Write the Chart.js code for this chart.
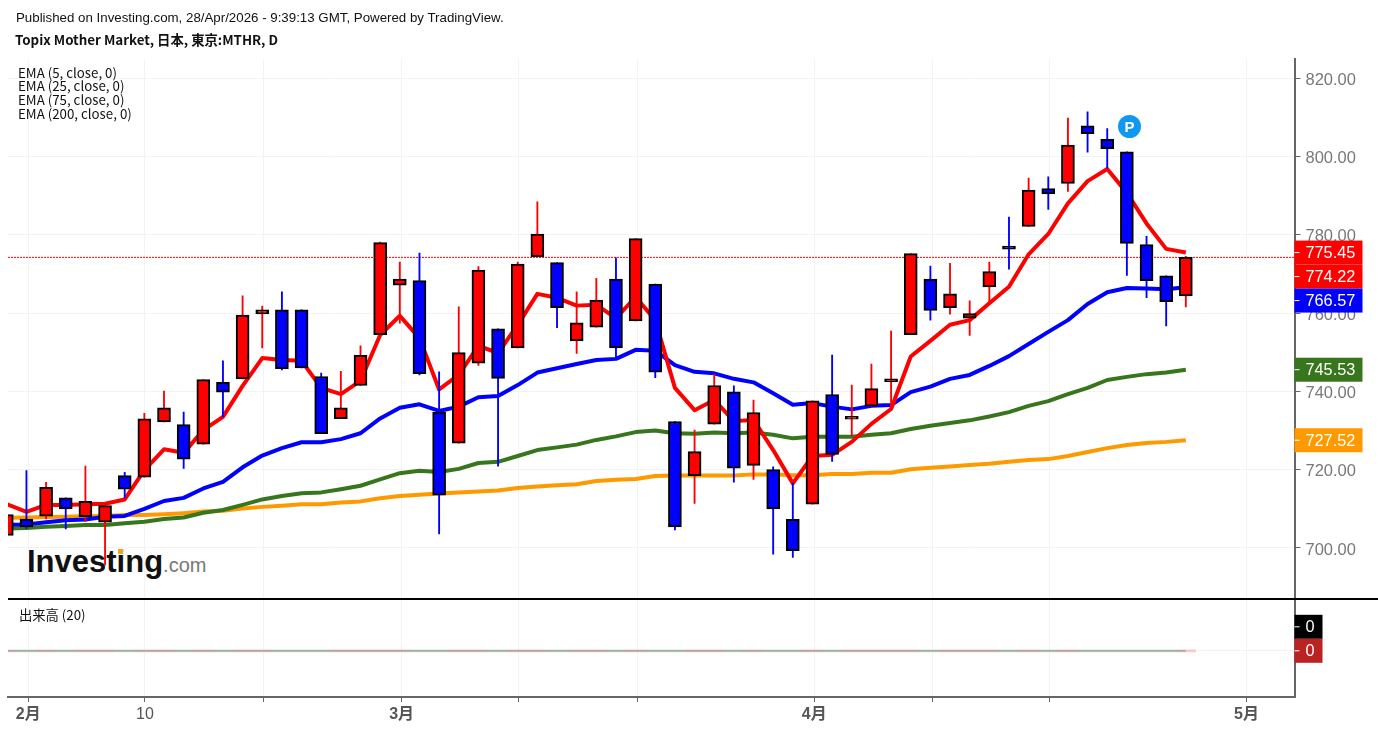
<!DOCTYPE html>
<html>
<head>
<meta charset="utf-8">
<title>Topix Mother Market</title>
<script src="https://cdn.jsdelivr.net/npm/chart.js@4"></script>
<style>
  html, body { margin:0; padding:0; background:#fff; }
  #wrap { position:relative; width:1378px; height:730px; overflow:hidden; }
  #chart { position:absolute; left:0; top:0; z-index:2; }
  .txt { position:absolute; white-space:nowrap; color:#111; z-index:3; }
  .pub { left:16px; top:10px; font:13.3px "Liberation Sans", sans-serif; }
  .ttl { left:15px; top:30px; font:bold 13.35px "Noto Sans CJK JP", sans-serif; }
  .ind { left:18px; font:13.3px/14px "Noto Sans CJK JP", sans-serif; }
  .logo { position:absolute; left:27px; top:544px; z-index:1; font:bold 31px "Liberation Sans", sans-serif; color:#111; white-space:nowrap; }
  .logo span { font:20px "Liberation Sans", sans-serif; color:#777; }
  .dot { position:absolute; left:118px; top:549px; width:5px; height:5px; background:#f7a11a; z-index:1; }
  .badge { position:absolute; left:1118px; top:115px; width:23px; height:23px; border-radius:50%; background:#0e98f2; color:#fff;
           font:bold 15px/23px "Liberation Sans", sans-serif; text-align:center; z-index:3; }
</style>
</head>
<body>
<div id="wrap">
  <div class="txt pub">Published on Investing.com, 28/Apr/2026 - 9:39:13 GMT, Powered by TradingView.</div>
  <div class="txt ttl">Topix Mother Market, 日本, 東京:MTHR, D</div>
  <div class="txt ind" style="top:66px">EMA (5, close, 0)</div>
  <div class="txt ind" style="top:79px">EMA (25, close, 0)</div>
  <div class="txt ind" style="top:93px">EMA (75, close, 0)</div>
  <div class="txt ind" style="top:107px">EMA (200, close, 0)</div>
  <div class="txt ind" style="top:608px;left:19px">出来高 (20)</div>
  <div class="logo">Investing<span>.com</span></div>
  <div class="dot"></div>
  <div class="badge">P</div>
  <canvas id="chart" width="1378" height="730"></canvas>
</div>
<script>
// Candles, one entry per trading day
const opens = [703.2,707.4,708.1,712.8,708.0,706.6,718.5,718.1,732.2,731.5,726.5,742.3,743.2,759.8,760.8,760.8,743.8,733.0,741.5,754.5,767.1,768.3,734.7,726.8,747.2,756.0,751.1,774.4,772.9,752.9,756.4,768.7,758.0,767.4,732.3,718.5,731.6,739.9,721.1,720.0,707.3,711.2,739.2,732.9,736.2,742.5,754.5,768.7,761.4,758.7,766.7,777.1,782.1,791.8,793.1,807.8,804.4,801.2,777.5,769.5,764.4];
const closes = [708.5,705.4,715.5,710.0,711.9,710.8,715.0,733.0,735.8,722.7,743.0,739.8,759.5,760.8,745.8,746.0,729.2,735.8,749.2,778.0,768.7,744.5,713.5,749.9,771.0,743.3,772.5,780.2,761.4,757.5,763.3,751.1,779.0,744.9,705.4,724.6,741.5,720.4,734.6,710.0,699.3,737.6,723.9,733.6,740.7,743.2,775.2,760.7,764.9,759.9,770.6,776.3,791.4,790.4,802.9,805.8,802.0,777.8,768.3,762.9,774.22];
const highs = [709.0,719.8,716.8,712.8,720.9,710.8,719.3,734.4,740.1,734.7,743.0,747.8,764.4,761.8,765.4,760.8,744.7,745.1,751.6,778.1,773.0,775.3,745.0,761.6,771.9,756.0,773.0,788.4,772.9,765.4,768.9,774.1,779.0,767.4,732.3,730.1,744.4,741.4,737.8,720.7,716.6,737.6,749.3,741.6,747.0,755.4,775.2,772.0,772.7,763.1,773.0,784.5,794.5,794.8,809.8,811.4,807.1,801.2,779.6,769.5,774.5];
const lows = [703.2,705.0,707.4,704.9,706.7,695.7,712.7,718.1,732.2,720.3,726.5,733.5,743.2,751.1,745.5,746.0,729.2,733.0,741.5,754.5,757.4,744.2,703.6,726.8,746.6,720.9,751.1,774.4,756.3,749.7,756.4,748.7,758.0,743.5,704.6,711.4,731.6,716.8,717.5,698.4,697.6,711.2,722.1,728.6,736.2,735.5,754.5,758.2,759.7,754.3,762.9,771.2,782.1,786.5,791.1,801.1,797.0,769.6,763.9,756.7,761.6];

// Moving averages
const ema5 = [711.2,709.2,711.0,711.0,711.2,711.3,712.4,719.9,725.2,724.3,730.1,733.5,741.4,748.5,748.0,747.8,740.9,739.3,742.7,754.4,759.3,753.6,740.5,744.2,751.6,749.8,757.0,764.9,763.9,761.9,762.1,758.7,764.1,758.2,740.9,735.2,737.8,732.4,732.7,725.0,716.5,723.5,723.8,727.1,731.7,735.5,748.9,752.9,757.0,758.2,762.5,766.7,775.0,780.2,788.0,793.7,796.8,790.7,782.9,776.4,775.45];
const ema25 = [705.9,706.0,706.6,707.1,707.3,708.0,708.2,710.0,712.0,712.8,715.2,716.9,720.6,723.6,725.5,727.0,727.0,727.8,729.3,733.1,735.8,736.7,735.0,736.1,738.5,738.8,741.6,744.8,745.9,747.0,748.0,748.3,750.6,750.4,746.7,745.0,744.6,743.2,742.3,739.5,736.6,737.0,736.1,735.4,736.3,736.5,739.8,741.2,743.2,744.2,746.5,749.0,752.1,755.2,758.2,762.3,765.3,766.4,766.3,766.1,766.57];
const ema75 = [705.0,705.1,705.4,705.6,705.9,705.9,706.3,706.7,707.4,707.8,709.0,709.7,711.0,712.4,713.3,714.0,714.2,715.0,715.9,717.5,719.1,719.7,719.4,720.2,721.7,722.0,723.5,725.0,725.7,726.4,727.6,728.5,729.6,730.0,729.3,729.2,729.5,729.3,729.5,728.9,728.0,728.4,728.4,728.4,728.9,729.3,730.4,731.2,731.9,732.6,733.6,734.7,736.3,737.5,739.3,740.9,742.9,743.7,744.4,744.8,745.53];
const ema200 = [707.7,707.8,707.9,708.0,708.1,708.2,708.4,708.4,708.6,708.9,709.3,709.5,710.1,710.5,710.8,711.2,711.2,711.6,711.9,712.7,713.3,713.6,713.9,714.2,714.4,714.7,715.3,715.7,716.0,716.3,717.1,717.4,717.6,718.4,718.5,718.5,718.5,718.5,718.8,718.8,718.6,718.6,718.9,718.9,719.2,719.2,720.1,720.5,720.8,721.2,721.5,722.0,722.5,722.7,723.5,724.5,725.5,726.3,726.8,727.1,727.52];

// Axes
const priceTicks = [700,720,740,760,780,800,820];
const tickDays = [1.09,7.03,13.05,20.09,26.04,32.09,41.09,47.1,53.06,63.09];
const tickLabels = ['2月','10','','3月','','','4月','','','5月'];

// Last value tags on the price axis
const lastPrice = 774.22;
const tagValues = [775.45,774.22,766.57,745.53,727.52];
const tagColors = ['#ff0000','#ff0000','#0000ff','#38761d','#ff9900'];

const days = opens.map((_, i) => i);
const isUp = i => closes[i] >= opens[i];
const xMin = 0.061, xMax = 65.53;

// Wicks and bodies are floating bars, wicks sit under the bodies
const wickData = days.map(i => ({ x:i, y:[lows[i], highs[i]] }));
const bodyData = days.map(i => ({ x:i, y:[opens[i], closes[i]] }));
const candleColors = days.map(i => isUp(i) ? '#ff0000' : '#0000ff');
const volumes = days.map(i => ({ x:i, y:0 }));
const volumeColors = days.map(i => isUp(i) ? '#f6c9c9' : '#c8e8c8');
const volumeMA = days.map(i => ({ x:i, y:0 }));

function lineSet(values, color, order) {
  return { type:'line', data: days.map(i => ({ x:i, y:values[i] })), borderColor:color, borderWidth:4,
           pointRadius:0, tension:0, order, yAxisID:'y', borderJoinStyle:'round' };
}

// Price tags, separator line between the panes
const tagPlugin = {
  id:'tags',
  afterDraw(chart) {
    const { ctx, scales } = chart;
    const right = scales.y.left;
    ctx.save();
    ctx.strokeStyle = '#000';
    ctx.lineWidth = 2;
    ctx.beginPath();
    ctx.moveTo(8, scales.y.bottom);
    ctx.lineTo(1378, scales.y.bottom);
    ctx.stroke();

    ctx.font = '16.3px "Liberation Sans", sans-serif';
    ctx.textBaseline = 'middle';
    let prevBottom = -1;
    tagValues.forEach((v, k) => {
      let cy = scales.y.getPixelForValue(v);
      if (cy - 12 < prevBottom) cy = prevBottom + 12;
      prevBottom = cy + 12;
      drawTag(ctx, right, cy, 68, tagColors[k], v.toFixed(2));
    });
    const zeroY = scales.y2.getPixelForValue(0);
    drawTag(ctx, right, zeroY - 24, 28, '#000', '0');
    drawTag(ctx, right, zeroY, 28, '#bb2222', '0');
    ctx.restore();
  }
};

function drawTag(ctx, x, cy, w, color, text) {
  ctx.fillStyle = color;
  ctx.fillRect(x, cy - 12, w, 24);
  ctx.fillStyle = '#fff';
  ctx.fillRect(x, cy - 0.5, 5, 1);
  ctx.fillText(text, x + 11, cy + 1);
}

new Chart(document.getElementById('chart'), {
  type:'bar',
  plugins:[tagPlugin],
  data:{
    datasets:[
      { data:bodyData, backgroundColor:candleColors, borderColor:'#000', borderWidth:2, borderSkipped:false,
        barThickness:13, grouped:false, order:1, yAxisID:'y' },
      { data:wickData, backgroundColor:candleColors, borderWidth:0, barThickness:1.2, grouped:false, order:2, yAxisID:'y' },
      { type:'line', data:[{x:xMin,y:lastPrice},{x:xMax,y:lastPrice}], borderColor:'#ff0000', borderWidth:1,
        borderDash:[2,1], pointRadius:0, order:3, yAxisID:'y' },
      lineSet(ema5, '#ff0000', 4),
      lineSet(ema25, '#0000ff', 5),
      lineSet(ema75, '#38761d', 6),
      lineSet(ema200, '#ff9900', 7),
      { type:'line', data:volumeMA, borderColor:'#999', borderWidth:1.2, pointRadius:0, order:8, yAxisID:'y2' },
      { data:volumes, backgroundColor:volumeColors, barThickness:19.6, minBarLength:2, grouped:false, order:9, yAxisID:'y2' }
    ]
  },
  options:{
    responsive:false,
    animation:false,
    layout:{ padding:{ left:8, top:59, right:0, bottom:0 } },
    plugins:{ legend:{ display:false }, tooltip:{ enabled:false } },
    scales:{
      x:{
        type:'linear', min:xMin, max:xMax, position:'bottom', offset:false,
        afterBuildTicks:s => { s.ticks = tickDays.map(v => ({ value:v })); },
        afterFit:s => { s.height = 33; },
        grid:{ color:'#f3f3f3', lineWidth:1, tickColor:'#666', tickLength:5, offset:false },
        border:{ color:'#666', width:2 },
        ticks:{
          autoSkip:false, maxRotation:0, padding:3, color:'#555',
          font:ctx => ({ family:'"Liberation Sans","Noto Sans CJK JP",sans-serif', size:16,
                         weight:(ctx.tick && String(ctx.tick.label).includes('月')) ? 'bold' : 'normal' }),
          callback:v => tickLabels[tickDays.indexOf(v)]
        }
      },
      y:{
        type:'linear', position:'right', min:686.97, max:824.89, stack:'panes', stackWeight:540,
        afterBuildTicks:s => { s.ticks = priceTicks.map(v => ({ value:v })); },
        afterFit:s => { s.width = 83.5; },
        grid:{ color:'#f3f3f3', lineWidth:1, tickColor:'#666', tickLength:6 },
        border:{ color:'#666', width:2 },
        ticks:{ color:'#787878', padding:5, labelOffset:2, font:{ family:'"Liberation Sans",sans-serif', size:16.5 },
                callback:v => v.toFixed(2) }
      },
      y2:{
        type:'linear', position:'right', min:-0.924, max:1.036, stack:'panes', stackWeight:98,
        afterBuildTicks:s => { s.ticks = [{ value:0 }]; },
        afterFit:s => { s.width = 83.5; },
        grid:{ color:'#f3f3f3', lineWidth:1, tickColor:'#666', tickLength:6 },
        border:{ color:'#666', width:2 },
        ticks:{ callback:() => '' }
      }
    }
  }
});
</script>
</body>
</html>
